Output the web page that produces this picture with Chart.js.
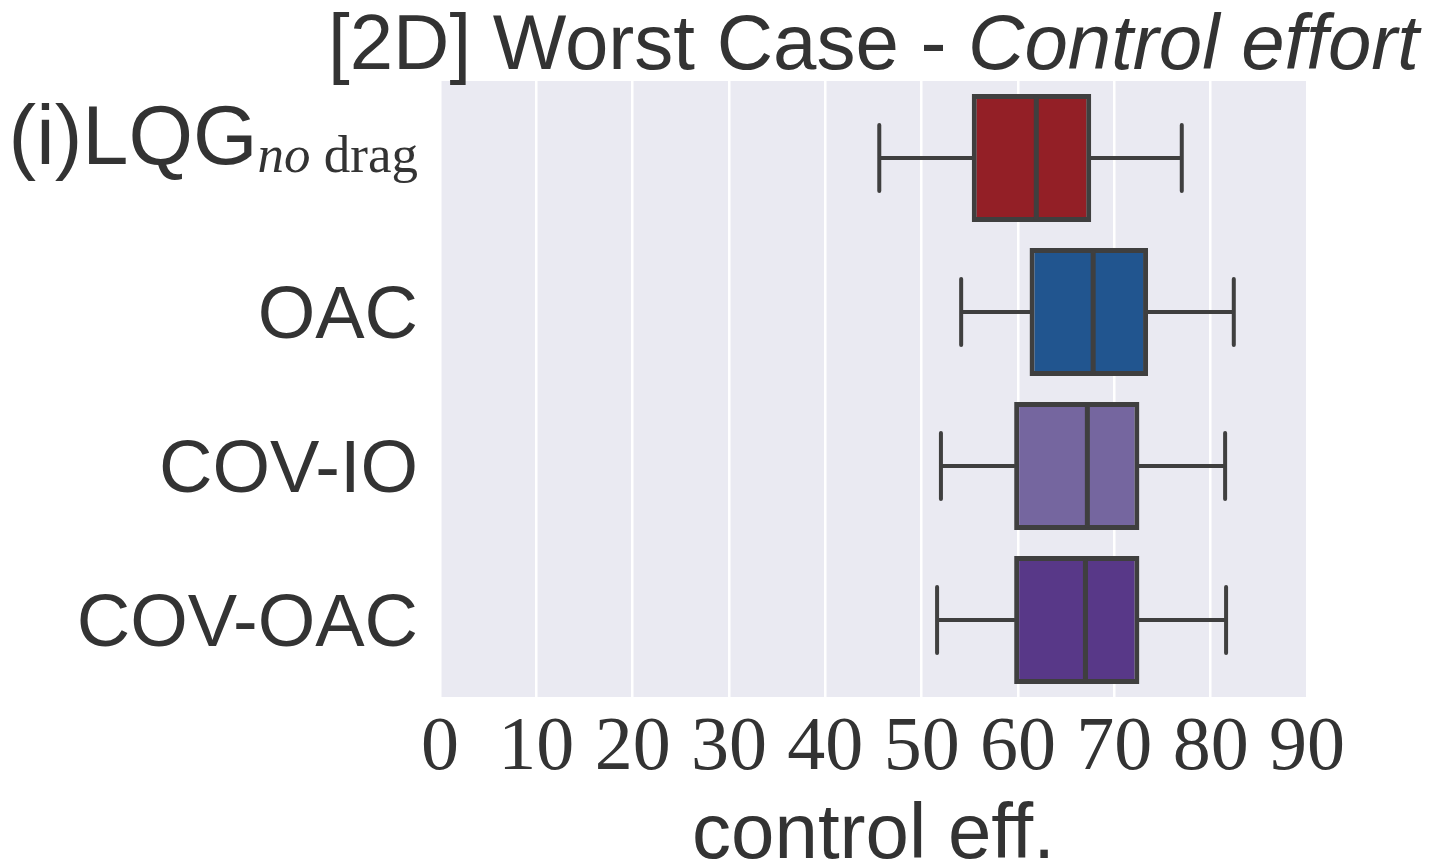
<!DOCTYPE html>
<html>
<head>
<meta charset="utf-8">
<script src="https://cdn.jsdelivr.net/npm/chart.js@4.4.1/dist/chart.umd.min.js"></script>
<style>
  html, body { margin: 0; padding: 0; background: #ffffff; }
  #wrap { width: 1439px; height: 865px; position: relative; }
</style>
</head>
<body>
<div id="wrap"><canvas id="c" width="1439" height="865"></canvas></div>
<script>
// ---- data ----
const categories = ['(i)LQG', 'OAC', 'COV-IO', 'COV-OAC'];
const labelSubscripts = ['no drag', '', '', ''];
const whiskerLow  = [45.6, 54.1, 52.0, 51.6];
const q1          = [55.2, 61.2, 59.6, 59.6];
const medians     = [61.9, 67.8, 67.2, 67.0];
const q3          = [67.6, 73.5, 72.6, 72.6];
const whiskerHigh = [77.0, 82.4, 81.5, 81.6];
const xTicks      = [0, 10, 20, 30, 40, 50, 60, 70, 80, 90];
const boxColors   = ['#931f26', '#21558f', '#75669f', '#583888'];

const titleMain = '[2D] Worst Case - ';
const titleItalic = 'Control effort';
const xTitle = 'control eff.';

const EDGE = '#3f3f3f';
const TEXT = '#333333';

const boxPlugin = {
  id: 'boxParts',
  beforeDraw(chart) {
    const a = chart.chartArea, ctx = chart.ctx;
    ctx.save();
    ctx.fillStyle = '#eaeaf2';
    ctx.fillRect(a.left, a.top, a.right - a.left, a.bottom - a.top);
    ctx.restore();
  },
  beforeDatasetsDraw(chart) {
    const ctx = chart.ctx, xs = chart.scales.x, ys = chart.scales.y;
    const meta = chart.getDatasetMeta(0);
    ctx.save();
    ctx.strokeStyle = EDGE;
    ctx.lineWidth = 4;
    ctx.lineCap = 'round';
    categories.forEach((c, i) => {
      const y = ys.getPixelForValue(i);
      const h = meta.data[i].height;
      const cap = h / 4 + 1;
      const xl = xs.getPixelForValue(whiskerLow[i]);
      const xa = xs.getPixelForValue(q1[i]);
      const xb = xs.getPixelForValue(q3[i]);
      const xh = xs.getPixelForValue(whiskerHigh[i]);
      ctx.beginPath();
      ctx.moveTo(xl, y); ctx.lineTo(xa, y);
      ctx.moveTo(xb, y); ctx.lineTo(xh, y);
      ctx.moveTo(xl, y - cap); ctx.lineTo(xl, y + cap);
      ctx.moveTo(xh, y - cap); ctx.lineTo(xh, y + cap);
      ctx.stroke();
    });
    ctx.restore();
  },
  afterDatasetsDraw(chart) {
    const ctx = chart.ctx, xs = chart.scales.x, ys = chart.scales.y;
    const meta = chart.getDatasetMeta(0);
    ctx.save();
    ctx.strokeStyle = EDGE;
    ctx.lineWidth = 5;
    categories.forEach((c, i) => {
      const y = ys.getPixelForValue(i);
      const h = meta.data[i].height;
      const xm = xs.getPixelForValue(medians[i]);
      ctx.beginPath();
      ctx.moveTo(xm, y - h / 2 + 2);
      ctx.lineTo(xm, y + h / 2 - 2);
      ctx.stroke();
    });
    ctx.restore();
  },
  afterDraw(chart) {
    const ctx = chart.ctx, ys = chart.scales.y, a = chart.chartArea;
    ctx.save();
    ctx.fillStyle = TEXT;
    ctx.textBaseline = 'alphabetic';
    // y category labels
    const rightX = 418;
    categories.forEach((c, i) => {
      const yc = ys.getPixelForValue(i);
      if (labelSubscripts[i]) {
        const mainFont = '83px "Liberation Sans", Arial, sans-serif';
        const subItalic = 'italic 53px "Liberation Serif", serif';
        const subUp = '53px "Liberation Serif", serif';
        const parts = labelSubscripts[i].split(' ');
        ctx.font = mainFont; const wMain = ctx.measureText(c).width;
        ctx.font = subItalic; const wIt = ctx.measureText(parts[0]).width;
        ctx.font = subUp; const wUp = ctx.measureText(' ' + parts.slice(1).join(' ')).width;
        let x = rightX - (wMain + wIt + wUp);
        const base = yc + 6;
        ctx.textAlign = 'left';
        ctx.font = mainFont; ctx.fillText(c, x, base); x += wMain;
        ctx.font = subItalic; ctx.fillText(parts[0], x, base + 8); x += wIt;
        ctx.font = subUp; ctx.fillText(' ' + parts.slice(1).join(' '), x, base + 8);
      } else {
        ctx.font = '74px "Liberation Sans", Arial, sans-serif';
        ctx.textAlign = 'right';
        ctx.fillText(c, rightX, yc + 26);
      }
    });
    // title
    const fMain = '78px "Liberation Sans", Arial, sans-serif';
    const fIt = 'italic 78px "Liberation Sans", Arial, sans-serif';
    ctx.font = fMain; const w1 = ctx.measureText(titleMain).width;
    ctx.font = fIt; const w2 = ctx.measureText(titleItalic).width;
    const cx = (a.left + a.right) / 2;
    let tx = cx - (w1 + w2) / 2;
    ctx.textAlign = 'left';
    ctx.font = fMain; ctx.fillText(titleMain, tx, 69);
    ctx.font = fIt; ctx.fillText(titleItalic, tx + w1, 69);
    ctx.restore();
  }
};

new Chart(document.getElementById('c'), {
  type: 'bar',
  data: {
    labels: categories,
    datasets: [{
      data: q1.map((v, i) => [v, q3[i]]),
      backgroundColor: boxColors,
      borderColor: EDGE,
      borderWidth: 5,
      borderSkipped: false,
      barPercentage: 0.83,
      categoryPercentage: 1.0
    }]
  },
  options: {
    indexAxis: 'y',
    responsive: false,
    animation: false,
    devicePixelRatio: 1,
    layout: { padding: { top: 81, right: 132, left: 0, bottom: 0 } },
    plugins: { legend: { display: false }, tooltip: { enabled: false }, title: { display: false } },
    scales: {
      x: {
        type: 'linear',
        min: xTicks[0],
        max: xTicks[xTicks.length - 1],
        afterBuildTicks(scale) { scale.ticks = xTicks.map(v => ({ value: v })); },
        afterFit(scale) { scale.height = 168; },
        grid: { color: '#ffffff', lineWidth: 2.5, drawTicks: false },
        border: { display: false },
        ticks: {
          padding: 6,
          color: TEXT,
          font: { family: '"Liberation Serif", serif', size: 76 },
          maxRotation: 0,
          autoSkip: false
        },
        title: {
          display: true,
          text: xTitle,
          color: TEXT,
          font: { family: '"Liberation Sans", Arial, sans-serif', size: 78, lineHeight: 0.72 },
          padding: { top: 0, bottom: 0 }
        }
      },
      y: {
        type: 'category',
        afterFit(scale) { scale.width = 440; },
        grid: { display: false },
        border: { display: false },
        ticks: { display: false }
      }
    }
  },
  plugins: [boxPlugin]
});
</script>
</body>
</html>
